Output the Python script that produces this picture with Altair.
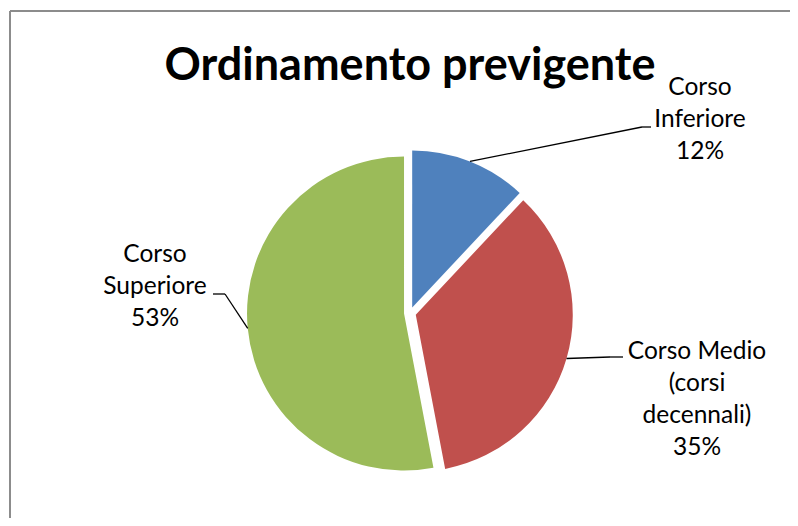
import math
import altair as alt
import pandas as pd

# ---- data ----
categories = ["Corso Inferiore", "Corso Medio (corsi decennali)", "Corso Superiore"]
values = [12, 35, 53]
colors = ["#4F81BD", "#C0504D", "#9BBB59"]
title_text = "Ordinamento previgente"

# ---- label layout (wrapped text and placement in chart pixels) ----
label_text = ["Corso\nInferiore", "Corso Medio\n(corsi\ndecennali)", "Corso\nSuperiore"]
label_x = [692, 689, 147]
label_y = [80, 344, 247]
elbow_x = [634, 602, 217]
elbow_y = [119, 349, 286]
end_x = [643, 615, 205]
end_y = [119, 349, 286]

W, H = 782, 510
CX, CY = 402, 305
R = 157
EXPLODE = 6
FONT = "Lato"

df = pd.DataFrame({
    "category": categories,
    "value": values,
    "order": list(range(len(values))),
    "wrapped": label_text,
    "lx": label_x, "ly": label_y,
    "ex": elbow_x, "ey": elbow_y,
    "tx": end_x, "ty": end_y,
})

base = alt.Chart(df).transform_window(
    cum="sum(value)", sort=[alt.SortField("order")], frame=[None, 0]
).transform_joinaggregate(
    total="sum(value)"
).transform_calculate(
    start="(datum.cum - datum.value) / datum.total * 100",
    end="datum.cum / datum.total * 100",
    mid="(datum.cum - datum.value / 2) / datum.total * 2 * PI",
).transform_calculate(
    cx=f"{CX} + {EXPLODE} * sin(datum.mid)",
    cy=f"{CY} - {EXPLODE} * cos(datum.mid)",
    sx=f"{CX} + {EXPLODE + R} * sin(datum.mid)",
    sy=f"{CY} - {EXPLODE + R} * cos(datum.mid)",
    label="datum.wrapped + '\\n' + round(datum.value / datum.total * 100) + '%'",
)

color_enc = alt.Color("category:N", scale=alt.Scale(domain=categories, range=colors), legend=None)

arcs = base.mark_arc(radius=R).encode(
    theta=alt.Theta("start:Q", scale=alt.Scale(domain=[0, 100], range=[0, 2 * math.pi]), stack=False),
    theta2="end:Q",
    x=alt.X("cx:Q", scale=None),
    y=alt.Y("cy:Q", scale=None),
    color=color_enc,
)

lead1 = base.mark_rule(color="black", strokeWidth=1.3).encode(
    x=alt.X("sx:Q", scale=None), y=alt.Y("sy:Q", scale=None),
    x2="ex:Q", y2="ey:Q",
)
lead2 = base.mark_rule(color="black", strokeWidth=1.3).encode(
    x=alt.X("ex:Q", scale=None), y=alt.Y("ey:Q", scale=None),
    x2="tx:Q", y2="ty:Q",
)

labels = base.mark_text(
    font=FONT, fontSize=24.5, lineHeight=32, align="center", baseline="middle",
    lineBreak="\n", color="black",
).encode(
    x=alt.X("lx:Q", scale=None), y=alt.Y("ly:Q", scale=None), text="label:N",
)

one = pd.DataFrame({"t": [title_text]})
title = alt.Chart(one).mark_text(
    font=FONT, fontSize=45, fontWeight="bold", align="center", baseline="alphabetic", color="black",
).encode(x=alt.value(402), y=alt.value(72), text="t:N")

border_top = alt.Chart(one).mark_rule(color="#8C8C8C", strokeWidth=2).encode(
    x=alt.value(2), x2=alt.value(W), y=alt.value(3)
)
border_left = alt.Chart(one).mark_rule(color="#8C8C8C", strokeWidth=2).encode(
    x=alt.value(2), y=alt.value(3), y2=alt.value(H)
)

chart = alt.layer(border_top, border_left, arcs, lead1, lead2, labels, title).properties(
    width=W, height=H, autosize="none", padding=0
).configure_view(stroke=None)

chart.save("out.html", embed_options={"renderer": "svg", "actions": False})
